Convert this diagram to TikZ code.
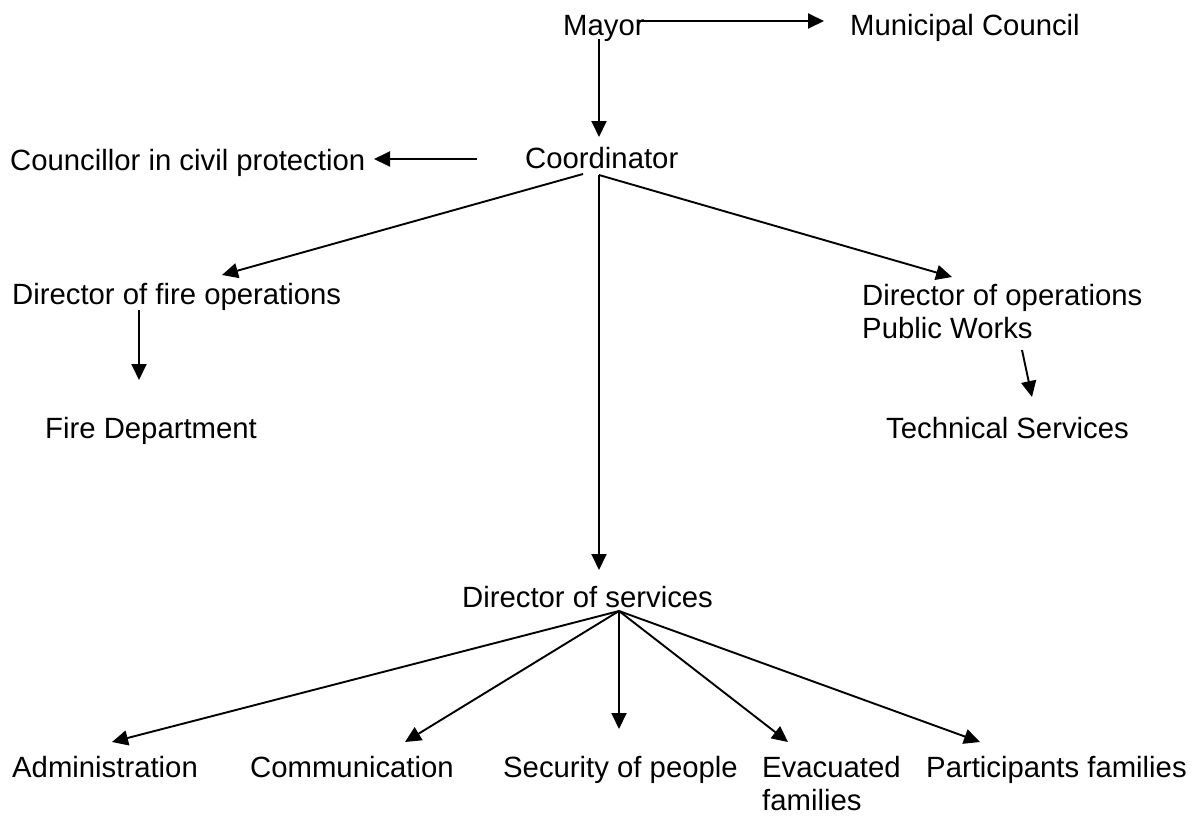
\documentclass[tikz,border=0pt]{standalone}
\usepackage{fontspec}
\setmainfont{Liberation Sans}
\usetikzlibrary{arrows.meta}
\tikzset{
  label/.style={anchor=base west, inner sep=0pt, align=left, font=\fontsize{29.3}{33}\selectfont},
  arr/.style={line width=1.9pt, -{Triangle[length=16pt, width=15pt]}}
}
\begin{document}
\begin{tikzpicture}[x=1pt, y=-1pt]
        \useasboundingbox (0, 0) rectangle (1195, 817);
        % top levels (two-line labels sit on their last baseline)
            \node[label] (mayor) at (563, 35) {Mayor};
            \node[label] (council) at (850, 35) {Municipal Council};
            \node[label] (coord) at (525, 168) {Coordinator};
            \node[label] (councillor) at (10, 170) {Councillor in civil protection};
            \node[label] (firedir) at (12, 304) {Director of fire operations};
            \node[label] (firedep) at (45, 438) {Fire Department};
            \node[label] (opsdir) at (862, 338) {Director of operations\\Public Works};
            \node[label] (techserv) at (886, 438) {Technical Services};
            \node[label] (servdir) at (462, 607) {Director of services};
        % services
            \node[label] (admin) at (12, 777) {Administration};
            \node[label] (comm) at (250, 777) {Communication};
            \node[label] (security) at (503, 777) {Security of people};
            \node[label] (evac) at (762, 810) {Evacuated\\families};
            \node[label] (partic) at (926, 777) {Participants families};
        \draw[arr] ([shift={(75,-14)}]mayor.base west) -- ([shift={(-26,-14)}]council.base west);
        \draw[arr] ([shift={(36,4)}]mayor.base west) -- ([shift={(74,-31)}]coord.base west);
        \draw[arr] ([shift={(-48,-9)}]coord.base west) -- ([shift={(364,-11)}]councillor.base west);
        \draw[arr] ([shift={(58,6)}]coord.base west) -- ([shift={(210,-29)}]firedir.base west);
        \draw[arr] ([shift={(74,7)}]coord.base west) -- ([shift={(90,-61)}]opsdir.base west);
        \draw[arr] ([shift={(74,7)}]coord.base west) -- ([shift={(137,-37)}]servdir.base west);
        \draw[arr] ([shift={(127,6)}]firedir.base west) -- ([shift={(94,-58)}]firedep.base west);
        \draw[arr] ([shift={(160,12)}]opsdir.base west) -- ([shift={(146,-41)}]techserv.base west);
        \coordinate (servfoot) at ([shift={(157,4)}]servdir.base west);
        \foreach \n/\dx/\dy in {admin/100/-35, comm/155/-35, security/116/-48, evac/26/-68, partic/54/-35}{
                \draw[arr] (servfoot) -- ([shift={(\dx,\dy)}]\n.base west);
            }
    \end{tikzpicture}
\end{document}
